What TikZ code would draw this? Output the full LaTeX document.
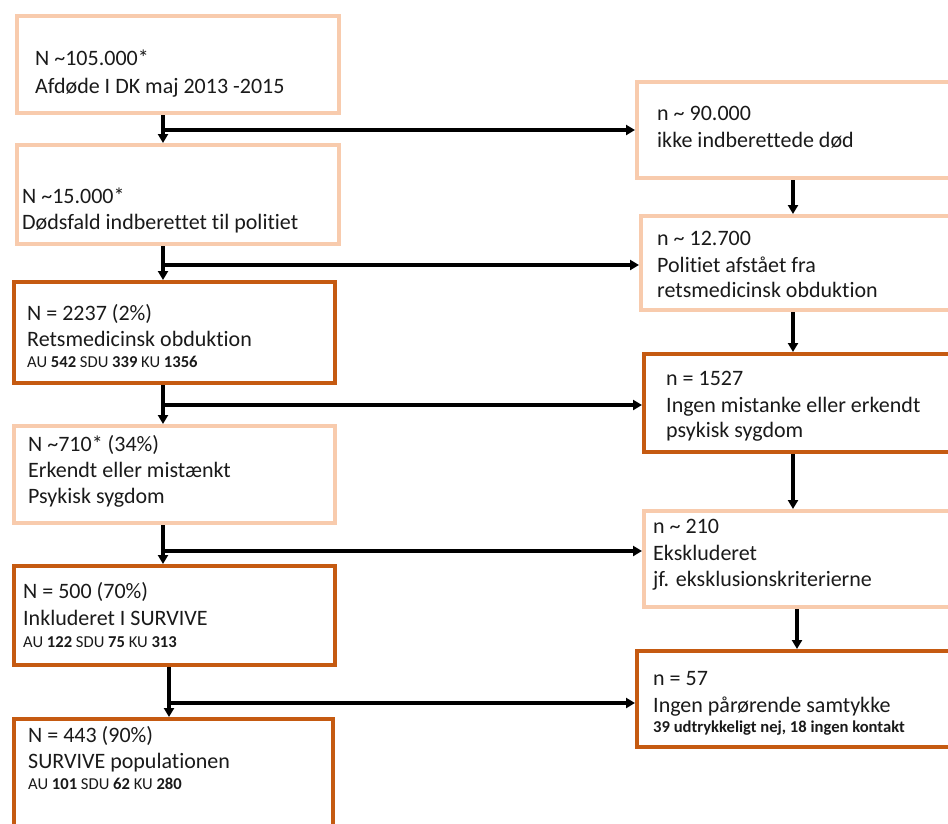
\documentclass[tikz,border=0pt]{standalone}
\usepackage{fontspec}
\setmainfont[Ligatures=NoCommon]{Carlito}
\usetikzlibrary{arrows.meta,calc}
\definecolor{peach}{HTML}{F8CBAD}
\definecolor{rust}{HTML}{C55A11}
\definecolor{txt}{HTML}{1A1A1A}
\begin{document}
\begin{tikzpicture}[x=1pt,y=-1pt,
  lightbox/.style={draw=peach,line width=4pt,fill=white,rectangle,anchor=north west,inner sep=0pt},
  darkbox/.style={draw=rust,line width=4pt,fill=white,rectangle,anchor=north west,inner sep=0pt},
  big/.style={anchor=base west,inner sep=0pt,text=txt,font=\fontsize{22}{26}\selectfont},
  small/.style={anchor=base west,inner sep=0pt,text=txt,font=\fontsize{16.6}{19}\selectfont},
  arr/.style={draw=black,line width=3.2pt,-{Triangle[width=10pt,length=9pt]}}]
\useasboundingbox (0,0) rectangle (948,823);
\clip (0,0) rectangle (948,823);
% left boxes
\node[lightbox,minimum width=322pt,minimum height=97pt] (b1) at (15,14) {};
\node[lightbox,minimum width=322pt,minimum height=99pt] (b2) at (15,143) {};
\node[darkbox,minimum width=321pt,minimum height=101pt] (b3) at (12,280) {};
\node[lightbox,minimum width=321pt,minimum height=97pt] (b4) at (12,424) {};
\node[darkbox,minimum width=321pt,minimum height=99pt] (b5) at (12,564) {};
\node[darkbox,minimum width=319pt,minimum height=130pt] (b6) at (12,717) {};
% right boxes
\node[lightbox,minimum width=360pt,minimum height=96pt] (r1) at (635,80) {};
\node[lightbox,minimum width=360pt,minimum height=94pt] (r2) at (639,214) {};
\node[darkbox,minimum width=360pt,minimum height=98pt] (r3) at (642,352) {};
\node[lightbox,minimum width=360pt,minimum height=96pt] (r4) at (642,509) {};
\node[darkbox,minimum width=360pt,minimum height=96pt] (r5) at (635,649) {};
% texts left
\node[big] (t11) at (35,65) {N \textasciitilde105.000*};
\node[big] (t12) at (35,93) {Afdøde I DK maj 2013 -2015};
\node[big] (t21) at (22,203) {N \textasciitilde15.000*};
\node[big] (t22) at (22,229) {Dødsfald indberettet til politiet};
\node[big] (t31) at (27,320) {N = 2237 (2\%)};
\node[big] (t32) at (27,346) {Retsmedicinsk obduktion};
\node[small] (t33) at (27,367) {AU \textbf{542} SDU \textbf{339} KU \textbf{1356}};
\node[big] (t41) at (28,451) {N \textasciitilde710* (34\%)};
\node[big] (t42) at (28,477) {Erkendt eller mistænkt};
\node[big] (t43) at (28,503) {Psykisk sygdom};
\node[big] (t51) at (23,598) {N = 500 (70\%)};
\node[big] (t52) at (23,625) {Inkluderet I SURVIVE};
\node[small] (t53) at (23,647) {AU \textbf{122} SDU \textbf{75} KU \textbf{313}};
\node[big] (t61) at (28,742) {N = 443 (90\%)};
\node[big] (t62) at (28,768) {SURVIVE populationen};
\node[small] (t63) at (28,789) {AU \textbf{101} SDU \textbf{62} KU \textbf{280}};
% texts right
\node[big] (s11) at (657,120) {n \textasciitilde{} 90.000};
\node[big] (s12) at (657,147) {ikke indberettede død};
\node[big] (s21) at (657,245) {n \textasciitilde{} 12.700};
\node[big] (s22) at (657,272) {Politiet afstået fra};
\node[big] (s23) at (657,297) {retsmedicinsk obduktion};
\node[big] (s31) at (666,385) {n = 1527};
\node[big] (s32) at (666,412) {Ingen mistanke eller erkendt};
\node[big] (s33) at (666,437) {psykisk sygdom};
\node[big] (s41) at (653,533) {n \textasciitilde{} 210};
\node[big] (s42) at (653,560) {Ekskluderet};
\node[big] (s43) at (653,586) {jf. eksklusionskriterierne};
\node[big] (s51) at (653,685) {n = 57};
\node[big] (s52) at (653,712) {Ingen pårørende samtykke};
\node[small,font=\fontsize{16.6}{19}\selectfont\bfseries] (s53) at (653,732) {39 udtrykkeligt nej, 18 ingen kontakt};
% junctions
\coordinate (j1) at (163,130);
\coordinate (j2) at (163,265);
\coordinate (j3) at (163,405);
\coordinate (j4) at (163,551);
\coordinate (j5) at (169,703);
\coordinate (k1) at (793,0);
\coordinate (k4) at (797,0);
% left vertical arrows
\draw[arr] (b1.south -| j1) -- (b2.north -| j1);
\draw[arr] (b2.south -| j2) -- (b3.north -| j2);
\draw[arr] (b3.south -| j3) -- (b4.north -| j3);
\draw[arr] (b4.south -| j4) -- (b5.north -| j4);
\draw[arr] (b5.south -| j5) -- (b6.north -| j5);
% horizontal arrows
\draw[arr] (j1) -- (j1 -| r1.west);
\draw[arr] (j2) -- (j2 -| r2.west);
\draw[arr] (j3) -- (j3 -| r3.west);
\draw[arr] (j4) -- (j4 -| r4.west);
\draw[arr] (j5) -- (j5 -| r5.west);
% right vertical arrows
\draw[arr] (r1.south -| k1) -- (r2.north -| k1);
\draw[arr] (r2.south -| k1) -- (r3.north -| k1);
\draw[arr] (r3.south -| k1) -- (r4.north -| k1);
\draw[arr] (r4.south -| k4) -- (r5.north -| k4);
\end{tikzpicture}
\end{document}
